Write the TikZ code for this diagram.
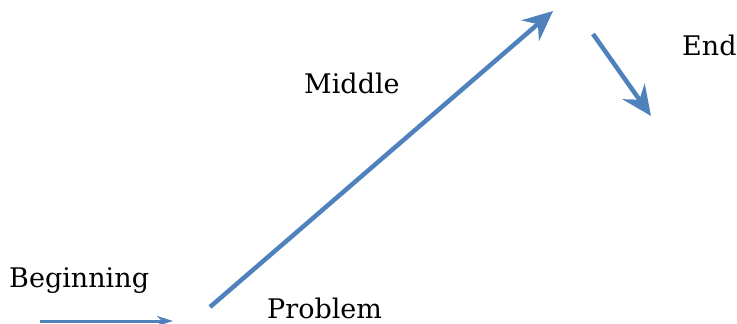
\documentclass[tikz,border=0pt]{standalone}
\usepackage{fontspec}
\setmainfont{DejaVu Serif}
\usetikzlibrary{arrows.meta}
\definecolor{arrowblue}{RGB}{79,129,189}
\tikzset{
  lbl/.style={anchor=base west, inner sep=0pt, font=\fontsize{27}{32}\selectfont, text=black},
  flow/.style={draw=arrowblue, line width=4.5pt, -{Stealth[length=30pt,width=27pt,inset=10pt]}},
  thinflow/.style={draw=arrowblue, line width=3pt, -{Stealth[length=16pt,width=10pt,inset=5pt]}}
}
\begin{document}
\begin{tikzpicture}[x=1pt,y=-1pt]
\useasboundingbox (0,0) rectangle (737,324);
\node[lbl] (beg) at (9,287) {Beginning};
\node[lbl] (prob) at (267,318) {Problem};
\node[lbl] (mid) at (304,93) {Middle};
\node[lbl] (end) at (682,55) {End};
\coordinate (a1) at (40,321);
\coordinate (a2) at (173,321);
\coordinate (b1) at (210,307);
\coordinate (b2) at (553,11);
\coordinate (c1) at (593,34);
\coordinate (c2) at (651,116);
\draw[thinflow] (a1) -- (a2);
\draw[flow] (b1) -- (b2);
\draw[flow] (c1) -- (c2);
\end{tikzpicture}
\end{document}
